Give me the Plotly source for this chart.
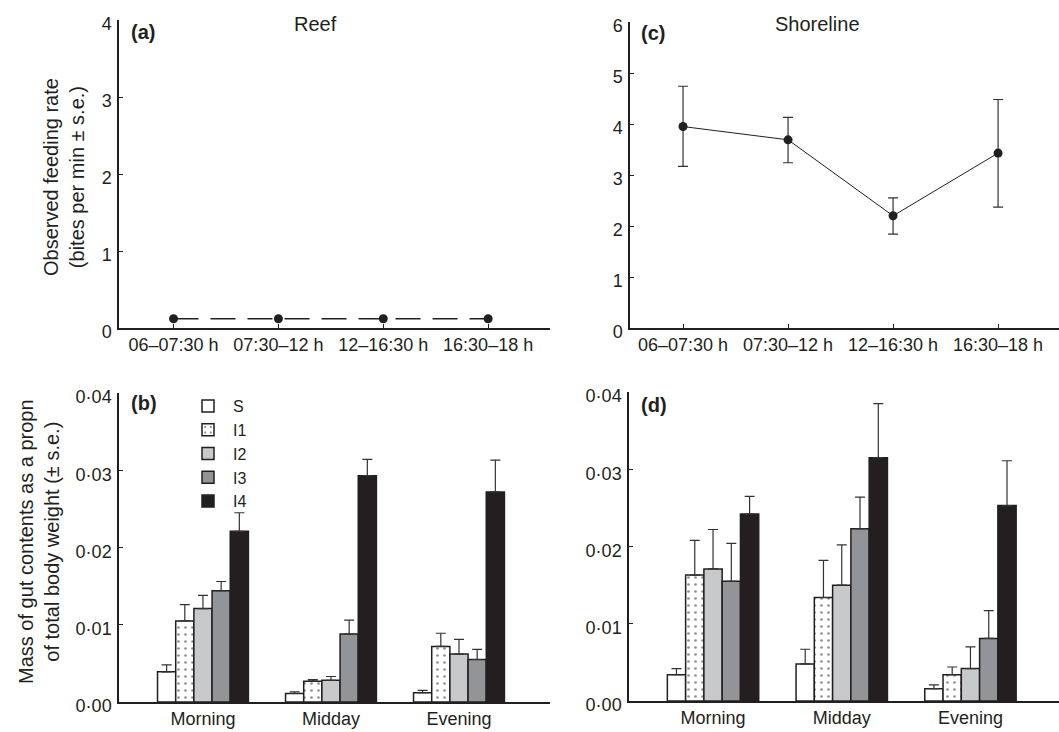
import plotly.graph_objects as go

# ---------------- data ----------------
time_periods = ["06–07:30 h", "07:30–12 h", "12–16:30 h", "16:30–18 h"]
reef_rate = [0.12, 0.12, 0.12, 0.12]
shore_rate = [3.95, 3.69, 2.20, 3.43]
shore_err_up = [0.79, 0.44, 0.35, 1.05]
shore_err_down = [0.78, 0.45, 0.36, 1.06]

times_of_day = ["Morning", "Midday", "Evening"]
stages = ["S", "I1", "I2", "I3", "I4"]

reef_gut = {
    "S": [0.0039, 0.0011, 0.0012],
    "I1": [0.0105, 0.0027, 0.0072],
    "I2": [0.0121, 0.0028, 0.0062],
    "I3": [0.0144, 0.0088, 0.0055],
    "I4": [0.0221, 0.0293, 0.0272],
}
reef_gut_se = {
    "S": [0.0009, 0.0002, 0.0003],
    "I1": [0.0021, 0.0002, 0.0017],
    "I2": [0.0017, 0.0005, 0.0019],
    "I3": [0.0012, 0.0018, 0.0013],
    "I4": [0.0024, 0.0021, 0.0041],
}
shore_gut = {
    "S": [0.0034, 0.0048, 0.0016],
    "I1": [0.0163, 0.0134, 0.0034],
    "I2": [0.0171, 0.0150, 0.0042],
    "I3": [0.0155, 0.0223, 0.0081],
    "I4": [0.0242, 0.0315, 0.0253],
}
shore_gut_se = {
    "S": [0.0008, 0.0019, 0.0005],
    "I1": [0.0045, 0.0048, 0.0010],
    "I2": [0.0051, 0.0052, 0.0028],
    "I3": [0.0049, 0.0041, 0.0036],
    "I4": [0.0023, 0.0070, 0.0058],
}

# ---------------- styles ----------------
INK = "#231f20"
FONT = "Liberation Sans, Arial, sans-serif"
stage_fill = {"S": "white", "I1": "white", "I2": "#c8c9cb", "I3": "#929497", "I4": INK}

fig = go.Figure()

# (a) Reef feeding rate
fig.add_trace(go.Scatter(
    x=time_periods, y=reef_rate, mode="lines+markers",
    line=dict(color=INK, width=1.5, dash="25px,12px"),
    marker=dict(color=INK, size=9), showlegend=False,
    xaxis="x", yaxis="y"))

# (c) Shoreline feeding rate
fig.add_trace(go.Scatter(
    x=time_periods, y=shore_rate, mode="lines+markers",
    line=dict(color=INK, width=1),
    marker=dict(color=INK, size=9),
    error_y=dict(type="data", symmetric=False, array=shore_err_up,
                 arrayminus=shore_err_down, color="#333", thickness=1.2, width=5),
    showlegend=False, xaxis="x2", yaxis="y2"))

def add_bars(data, se, xa, ya, legend):
    for s in stages:
        marker = dict(color=stage_fill[s], line=dict(color=INK, width=1.5))
        if s == "I1":
            marker["pattern"] = dict(shape=".", fgcolor=INK, bgcolor="white",
                                     size=7, solidity=0.12)
        fig.add_trace(go.Bar(
            x=times_of_day, y=data[s], name=s, marker=marker,
            error_y=dict(type="data", symmetric=False, array=se[s],
                         arrayminus=[0] * len(se[s]), color="#333",
                         thickness=1.2, width=5),
            showlegend=legend, legendgroup=s, xaxis=xa, yaxis=ya))

add_bars(reef_gut, reef_gut_se, "x3", "y3", True)
add_bars(shore_gut, shore_gut_se, "x4", "y4", False)

W, H = 1059, 732
def px_x(a, b):
    return [a / W, b / W]
def px_y(top, bottom):
    return [1 - bottom / H, 1 - top / H]

axis_common = dict(showline=True, linecolor=INK, linewidth=1.5, showgrid=False,
                   zeroline=False, tickfont=dict(family=FONT, size=18, color=INK),
                   tickcolor=INK, tickwidth=1)
yaxis_common = dict(ticks="inside", ticklen=4, ticklabelshift=4, ticklabelstandoff=2,
                    **axis_common)

yticks_gut = [0, 0.01, 0.02, 0.03, 0.04]
yticktext_gut = ["0·00", "0·01", "0·02", "0·03", "0·04"]

fig.update_layout(
    width=W, height=H,
    margin=dict(l=0, r=0, t=0, b=0, autoexpand=False),
    paper_bgcolor="white", plot_bgcolor="white",
    font=dict(family=FONT, color=INK),
    barmode="group", bargap=0.29, bargroupgap=0,
    xaxis=dict(domain=px_x(119, 550), anchor="y", range=[-0.52, 3.59],
               ticks="inside", ticklen=4, **axis_common),
    yaxis=dict(domain=px_y(20, 328), anchor="x", range=[0, 4], dtick=1,
               **yaxis_common),
    xaxis2=dict(domain=px_x(630, 1059), anchor="y2", range=[-0.505, 3.58],
                ticks="inside", ticklen=4, **axis_common),
    yaxis2=dict(domain=px_y(22, 328), anchor="x2", range=[0, 6], dtick=1,
                **yaxis_common),
    xaxis3=dict(domain=px_x(119, 550), anchor="y3", range=[-0.656, 2.711],
                ticks="", **axis_common),
    yaxis3=dict(domain=px_y(393, 702), anchor="x3", range=[0, 0.04],
                tickvals=yticks_gut, ticktext=yticktext_gut, **yaxis_common),
    xaxis4=dict(domain=px_x(629, 1059), anchor="y4", range=[-0.653, 2.688],
                ticks="", **axis_common),
    yaxis4=dict(domain=px_y(392, 701), anchor="x4", range=[0, 0.04],
                tickvals=yticks_gut, ticktext=yticktext_gut, **yaxis_common),
    legend=dict(x=183 / W, y=1 - 389 / H, xanchor="left", yanchor="top",
                font=dict(family=FONT, size=16, color=INK),
                bgcolor="rgba(0,0,0,0)", itemwidth=40, tracegroupgap=0),
)

ann = []
def label(text, x, y, size=18, bold=False, angle=0, xanchor="center"):
    ann.append(dict(text=f"<b>{text}</b>" if bold else text, x=x / W, y=1 - y / H,
                    xref="paper", yref="paper", showarrow=False, textangle=angle,
                    xanchor=xanchor, yanchor="middle",
                    font=dict(family=FONT, size=size, color=INK)))

label("(a)", 129, 32, size=20, bold=True, xanchor="left")
label("(b)", 129, 403, size=20, bold=True, xanchor="left")
label("(c)", 639, 33, size=20, bold=True, xanchor="left")
label("(d)", 639, 405, size=20, bold=True, xanchor="left")
label("Reef", 315, 24, size=20)
label("Shoreline", 817, 24, size=20)
label("Observed feeding rate<br>(bites per min ± s.e.)", 64, 177, size=20, angle=-90)
label("Mass of gut contents as a propn<br>of total body weight (± s.e.)", 39, 542, size=20, angle=-90)
fig.update_layout(annotations=ann)

fig.write_html(
    "out.html",
    config={"displayModeBar": False},
    post_script="document.body.style.margin='0px';document.body.style.overflow='hidden';",
)
